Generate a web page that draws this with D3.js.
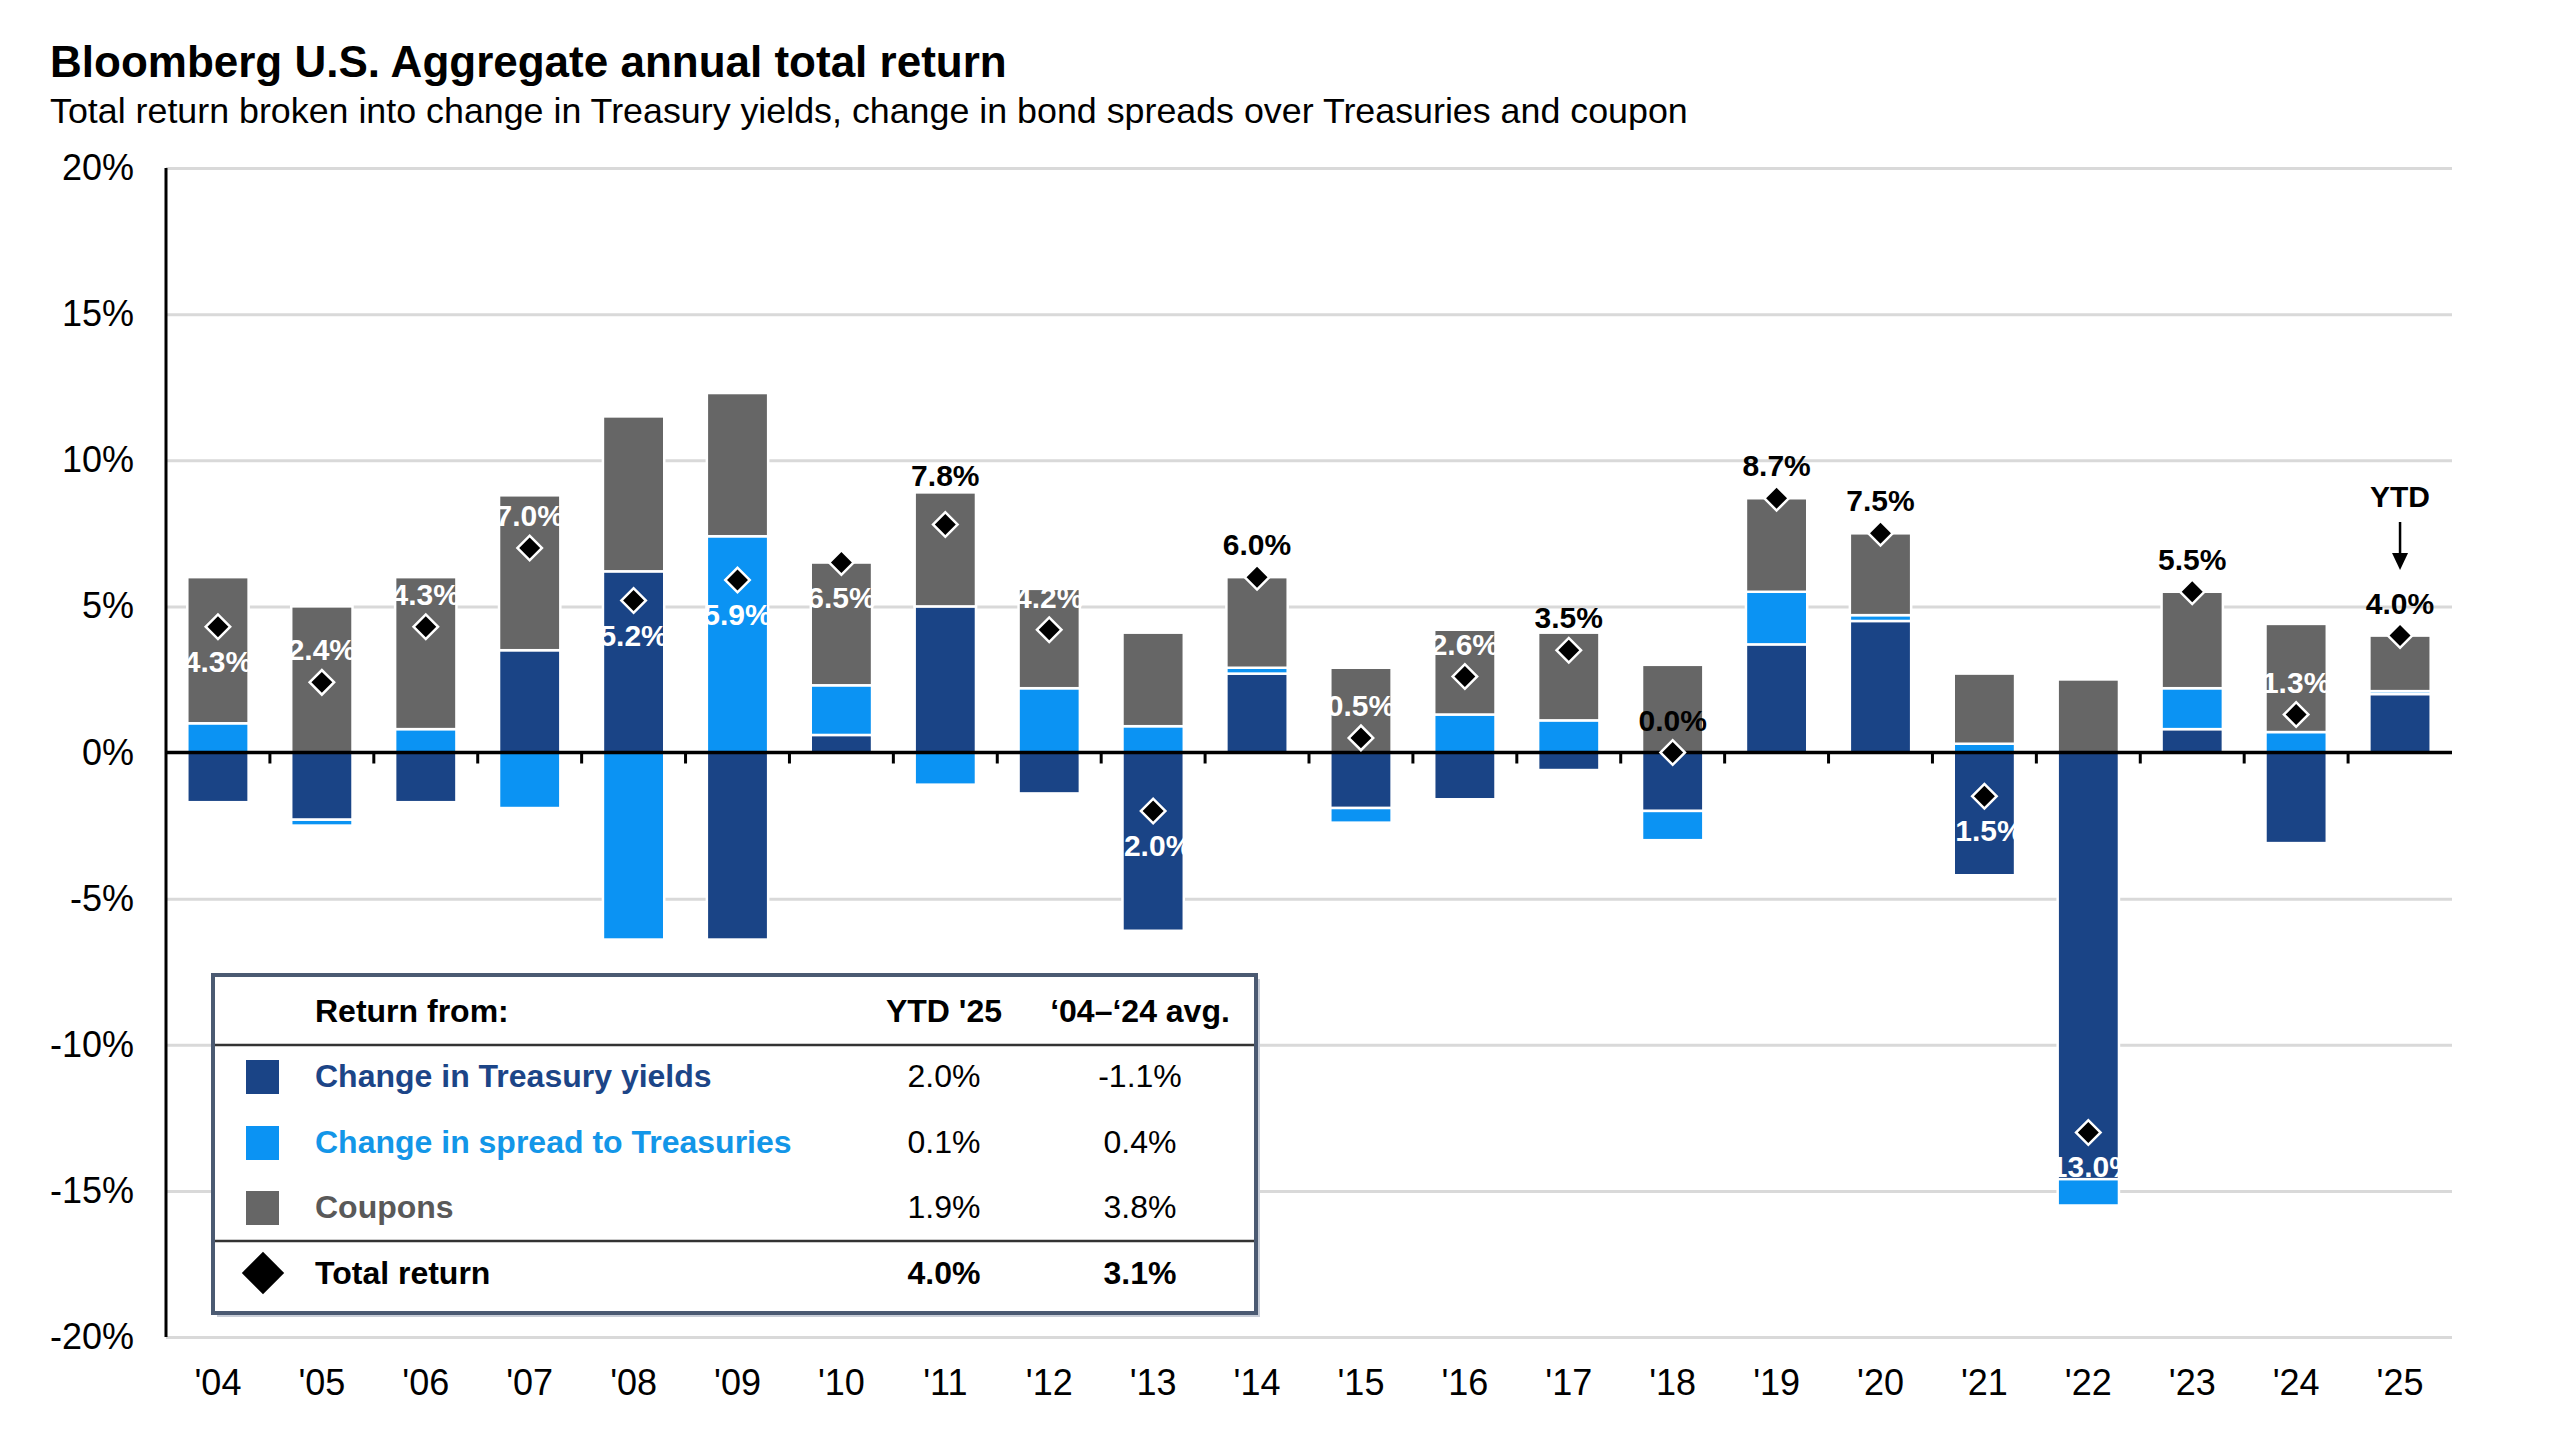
<!DOCTYPE html>
<html>
<head>
<meta charset="utf-8">
<script src="https://cdn.jsdelivr.net/npm/d3@7"></script>
<style>
  html, body { margin: 0; padding: 0; background: #ffffff; }
  svg { display: block; }
  text { font-family: "Liberation Sans", Arial, sans-serif; }
</style>
</head>
<body>
<svg id="chart" width="2560" height="1440"></svg>
<script>
// ---------------- data ----------------
const years = ["04","05","06","07","08","09","10","11","12","13","14","15","16","17","18","19","20","21","22","23","24","25"];
const treasury = [-1.7,-2.3,-1.7, 3.5, 6.2,-6.4, 0.6, 5.0,-1.4,-6.1, 2.7,-1.9,-1.6,-0.6,-2.0, 3.7, 4.5,-4.2,-14.6, 0.8,-3.1, 2.0];
const spread   = [ 1.0,-0.2, 0.8,-1.9,-6.4, 7.4, 1.7,-1.1, 2.2, 0.9, 0.2,-0.5, 1.3, 1.1,-1.0, 1.8, 0.2, 0.3, -0.9, 1.4, 0.7, 0.1];
const coupon   = [ 5.0, 5.0, 5.2, 5.3, 5.3, 4.9, 4.2, 3.9, 3.4, 3.2, 3.1, 2.9, 2.9, 3.0, 3.0, 3.2, 2.8, 2.4,  2.5, 3.3, 3.7, 1.9];
const total    = [ 4.3, 2.4, 4.3, 7.0, 5.2, 5.9, 6.5, 7.8, 4.2,-2.0, 6.0, 0.5, 2.6, 3.5, 0.0, 8.7, 7.5,-1.5,-13.0, 5.5, 1.3, 4.0];
// label placement relative to the diamond, and whether the label is dark
const labelPos  = ["below","above","above","above","below","below","below","top","above","below","above","above","above","above","above","above","above","below","below","above","above","above"];
const labelDark = [false,false,false,false,false,false,false,true,false,false,true,false,false,true,true,true,true,false,false,true,false,true];
const yTicks = [-20,-15,-10,-5,0,5,10,15,20];

const legendNames = ["Change in Treasury yields","Change in spread to Treasuries","Coupons","Total return"];
const legendYTD   = ["2.0%","0.1%","1.9%","4.0%"];
const legendAvg   = ["-1.1%","0.4%","3.8%","3.1%"];

const chartTitle = "Bloomberg U.S. Aggregate annual total return";
const chartSubtitle = "Total return broken into change in Treasury yields, change in bond spreads over Treasuries and coupon";

// ---------------- styles ----------------
const C_DARK = "#1a4486";
const C_LIGHT = "#0b93f3";
const C_GRAY = "#666666";
const keys = ["treasury","spread","coupon"];
const colors = {treasury: C_DARK, spread: C_LIGHT, coupon: C_GRAY};
const legendTextColors = ["#1c4587", "#1396e8", "#595959", "#000000"];

(function draw() {
const svg = d3.select("#chart");

const pLeft = 166, pRight = 2452, pTop = 168, pBottom = 1337;
const x = d3.scaleBand().domain(years).range([pLeft, pRight]).paddingInner(0.41).paddingOuter(0.205);
const y = d3.scaleLinear().domain([-20, 20]).range([pBottom, pTop]);

// titles
svg.append("text").attr("x", 50).attr("y", 77).attr("font-size", 44).attr("font-weight", "bold").attr("fill", "#000").text(chartTitle);
svg.append("text").attr("x", 50).attr("y", 123).attr("font-size", 35.8).attr("fill", "#000").text(chartSubtitle);

// gridlines + y labels
const yAxis = d3.axisLeft(y).tickValues(yTicks).tickSize(-(pRight - pLeft)).tickPadding(32).tickFormat(d => d + "%");
const gy = svg.append("g").attr("transform", `translate(${pLeft},0)`).call(yAxis);
gy.select(".domain").remove();
gy.selectAll(".tick line").attr("stroke", "#d9d9d9").attr("stroke-width", 3).attr("opacity", d => d === 0 ? 0 : 1);
gy.selectAll(".tick text").attr("font-size", 36).attr("fill", "#000").attr("font-family", "Liberation Sans, Arial, sans-serif");

// x labels
const xAxis = d3.axisBottom(x).tickSize(0).tickPadding(32).tickFormat(d => "'" + d);
const gx = svg.append("g").attr("transform", `translate(0,${pBottom})`).call(xAxis);
gx.select(".domain").remove();
gx.selectAll(".tick text").attr("font-size", 36).attr("fill", "#000").attr("font-family", "Liberation Sans, Arial, sans-serif");

// stacked bars
const rows = years.map((yr, i) => ({year: yr, treasury: treasury[i], spread: spread[i], coupon: coupon[i], total: total[i]}));
const stack = d3.stack().keys(keys).offset(d3.stackOffsetDiverging);
const series = stack(rows);

svg.append("g").selectAll("g").data(series).join("g")
  .attr("fill", s => colors[s.key])
  .selectAll("rect").data(s => s).join("rect")
  .attr("x", d => x(d.data.year))
  .attr("width", x.bandwidth())
  .attr("y", d => y(Math.max(d[0], d[1])))
  .attr("height", d => Math.abs(y(d[0]) - y(d[1])))
  .attr("stroke", "#ffffff")
  .attr("stroke-width", 2.5);

// zero line and ticks
svg.append("line").attr("x1", pLeft).attr("x2", pRight).attr("y1", y(0)).attr("y2", y(0)).attr("stroke", "#000").attr("stroke-width", 3.5);
const step = x.step();
svg.append("g").selectAll("line").data(years.slice(1)).join("line")
  .attr("x1", d => x(d) - step * x.paddingInner() / 2)
  .attr("x2", d => x(d) - step * x.paddingInner() / 2)
  .attr("y1", y(0)).attr("y2", y(0) + 11)
  .attr("stroke", "#000").attr("stroke-width", 3);

// y axis line
svg.append("line").attr("x1", pLeft).attr("x2", pLeft).attr("y1", pTop).attr("y2", pBottom).attr("stroke", "#000").attr("stroke-width", 3);

// diamonds
const diamond = d3.symbol().type(d3.symbolSquare).size(300);
svg.append("g").selectAll("path").data(rows).join("path")
  .attr("d", diamond)
  .attr("transform", d => `translate(${x(d.year) + x.bandwidth() / 2},${y(d.total)}) rotate(45)`)
  .attr("fill", "#000").attr("stroke", "#fff").attr("stroke-width", 2.5);

// total labels
svg.append("g").selectAll("text").data(rows).join("text")
  .attr("x", d => x(d.year) + x.bandwidth() / 2)
  .attr("y", (d, i) => {
    const yd = y(d.total);
    if (labelPos[i] === "below") return yd + 45;
    if (labelPos[i] === "top") return y(Math.max(0, d.treasury) + Math.max(0, d.spread) + Math.max(0, d.coupon)) - 6;
    return yd - 22;
  })
  .attr("text-anchor", "middle")
  .attr("font-size", 30).attr("font-weight", "bold")
  .attr("fill", (d, i) => labelDark[i] ? "#000" : "#fff")
  .text(d => d.total.toFixed(1) + "%");

// YTD annotation
const xYtd = x("25") + x.bandwidth() / 2;
svg.append("text").attr("x", xYtd).attr("y", 507).attr("text-anchor", "middle").attr("font-size", 30).attr("font-weight", "bold").text("YTD");
svg.append("line").attr("x1", xYtd).attr("x2", xYtd).attr("y1", 522).attr("y2", 556).attr("stroke", "#000").attr("stroke-width", 2.5);
svg.append("path").attr("d", `M${xYtd - 8},553 L${xYtd + 8},553 L${xYtd},570 Z`).attr("fill", "#000");

// legend table
const lg = svg.append("g");
lg.append("rect").attr("x", 217).attr("y", 979).attr("width", 1043).attr("height", 338).attr("fill", "#c9ced8");
lg.append("rect").attr("x", 213).attr("y", 975).attr("width", 1043).attr("height", 338)
  .attr("fill", "#ffffff").attr("stroke", "#4b5a72").attr("stroke-width", 4);
const colText = 315, colYtd = 944, colAvg = 1140;
const fsL = 32;
lg.append("text").attr("x", colText).attr("y", 1022).attr("font-size", fsL).attr("font-weight", "bold").text("Return from:");
lg.append("text").attr("x", colYtd).attr("y", 1022).attr("text-anchor", "middle").attr("font-size", fsL).attr("font-weight", "bold").text("YTD '25");
lg.append("text").attr("x", colAvg).attr("y", 1022).attr("text-anchor", "middle").attr("font-size", fsL).attr("font-weight", "bold").text("\u201804\u2013\u201824 avg.");
lg.append("line").attr("x1", 215).attr("x2", 1254).attr("y1", 1045).attr("y2", 1045).attr("stroke", "#333").attr("stroke-width", 2.5);
lg.append("line").attr("x1", 215).attr("x2", 1254).attr("y1", 1241).attr("y2", 1241).attr("stroke", "#333").attr("stroke-width", 2.5);

const rowBase = [1087, 1153, 1218, 1284];
legendNames.forEach((name, i) => {
  const b = rowBase[i];
  if (i < 3) {
    lg.append("rect").attr("x", 246).attr("y", b - 27).attr("width", 33).attr("height", 34).attr("fill", colors[keys[i]]);
  } else {
    lg.append("path").attr("d", d3.symbol().type(d3.symbolSquare).size(900)())
      .attr("transform", `translate(263,${b - 11}) rotate(45)`).attr("fill", "#000");
  }
  lg.append("text").attr("x", colText).attr("y", b).attr("font-size", fsL).attr("font-weight", "bold")
    .attr("fill", legendTextColors[i]).text(name);
  lg.append("text").attr("x", colYtd).attr("y", b).attr("text-anchor", "middle").attr("font-size", fsL)
    .attr("font-weight", i === 3 ? "bold" : "normal").attr("fill", "#000").text(legendYTD[i]);
  lg.append("text").attr("x", colAvg).attr("y", b).attr("text-anchor", "middle").attr("font-size", fsL)
    .attr("font-weight", i === 3 ? "bold" : "normal").attr("fill", "#000").text(legendAvg[i]);
});
})();
</script>
</body>
</html>
